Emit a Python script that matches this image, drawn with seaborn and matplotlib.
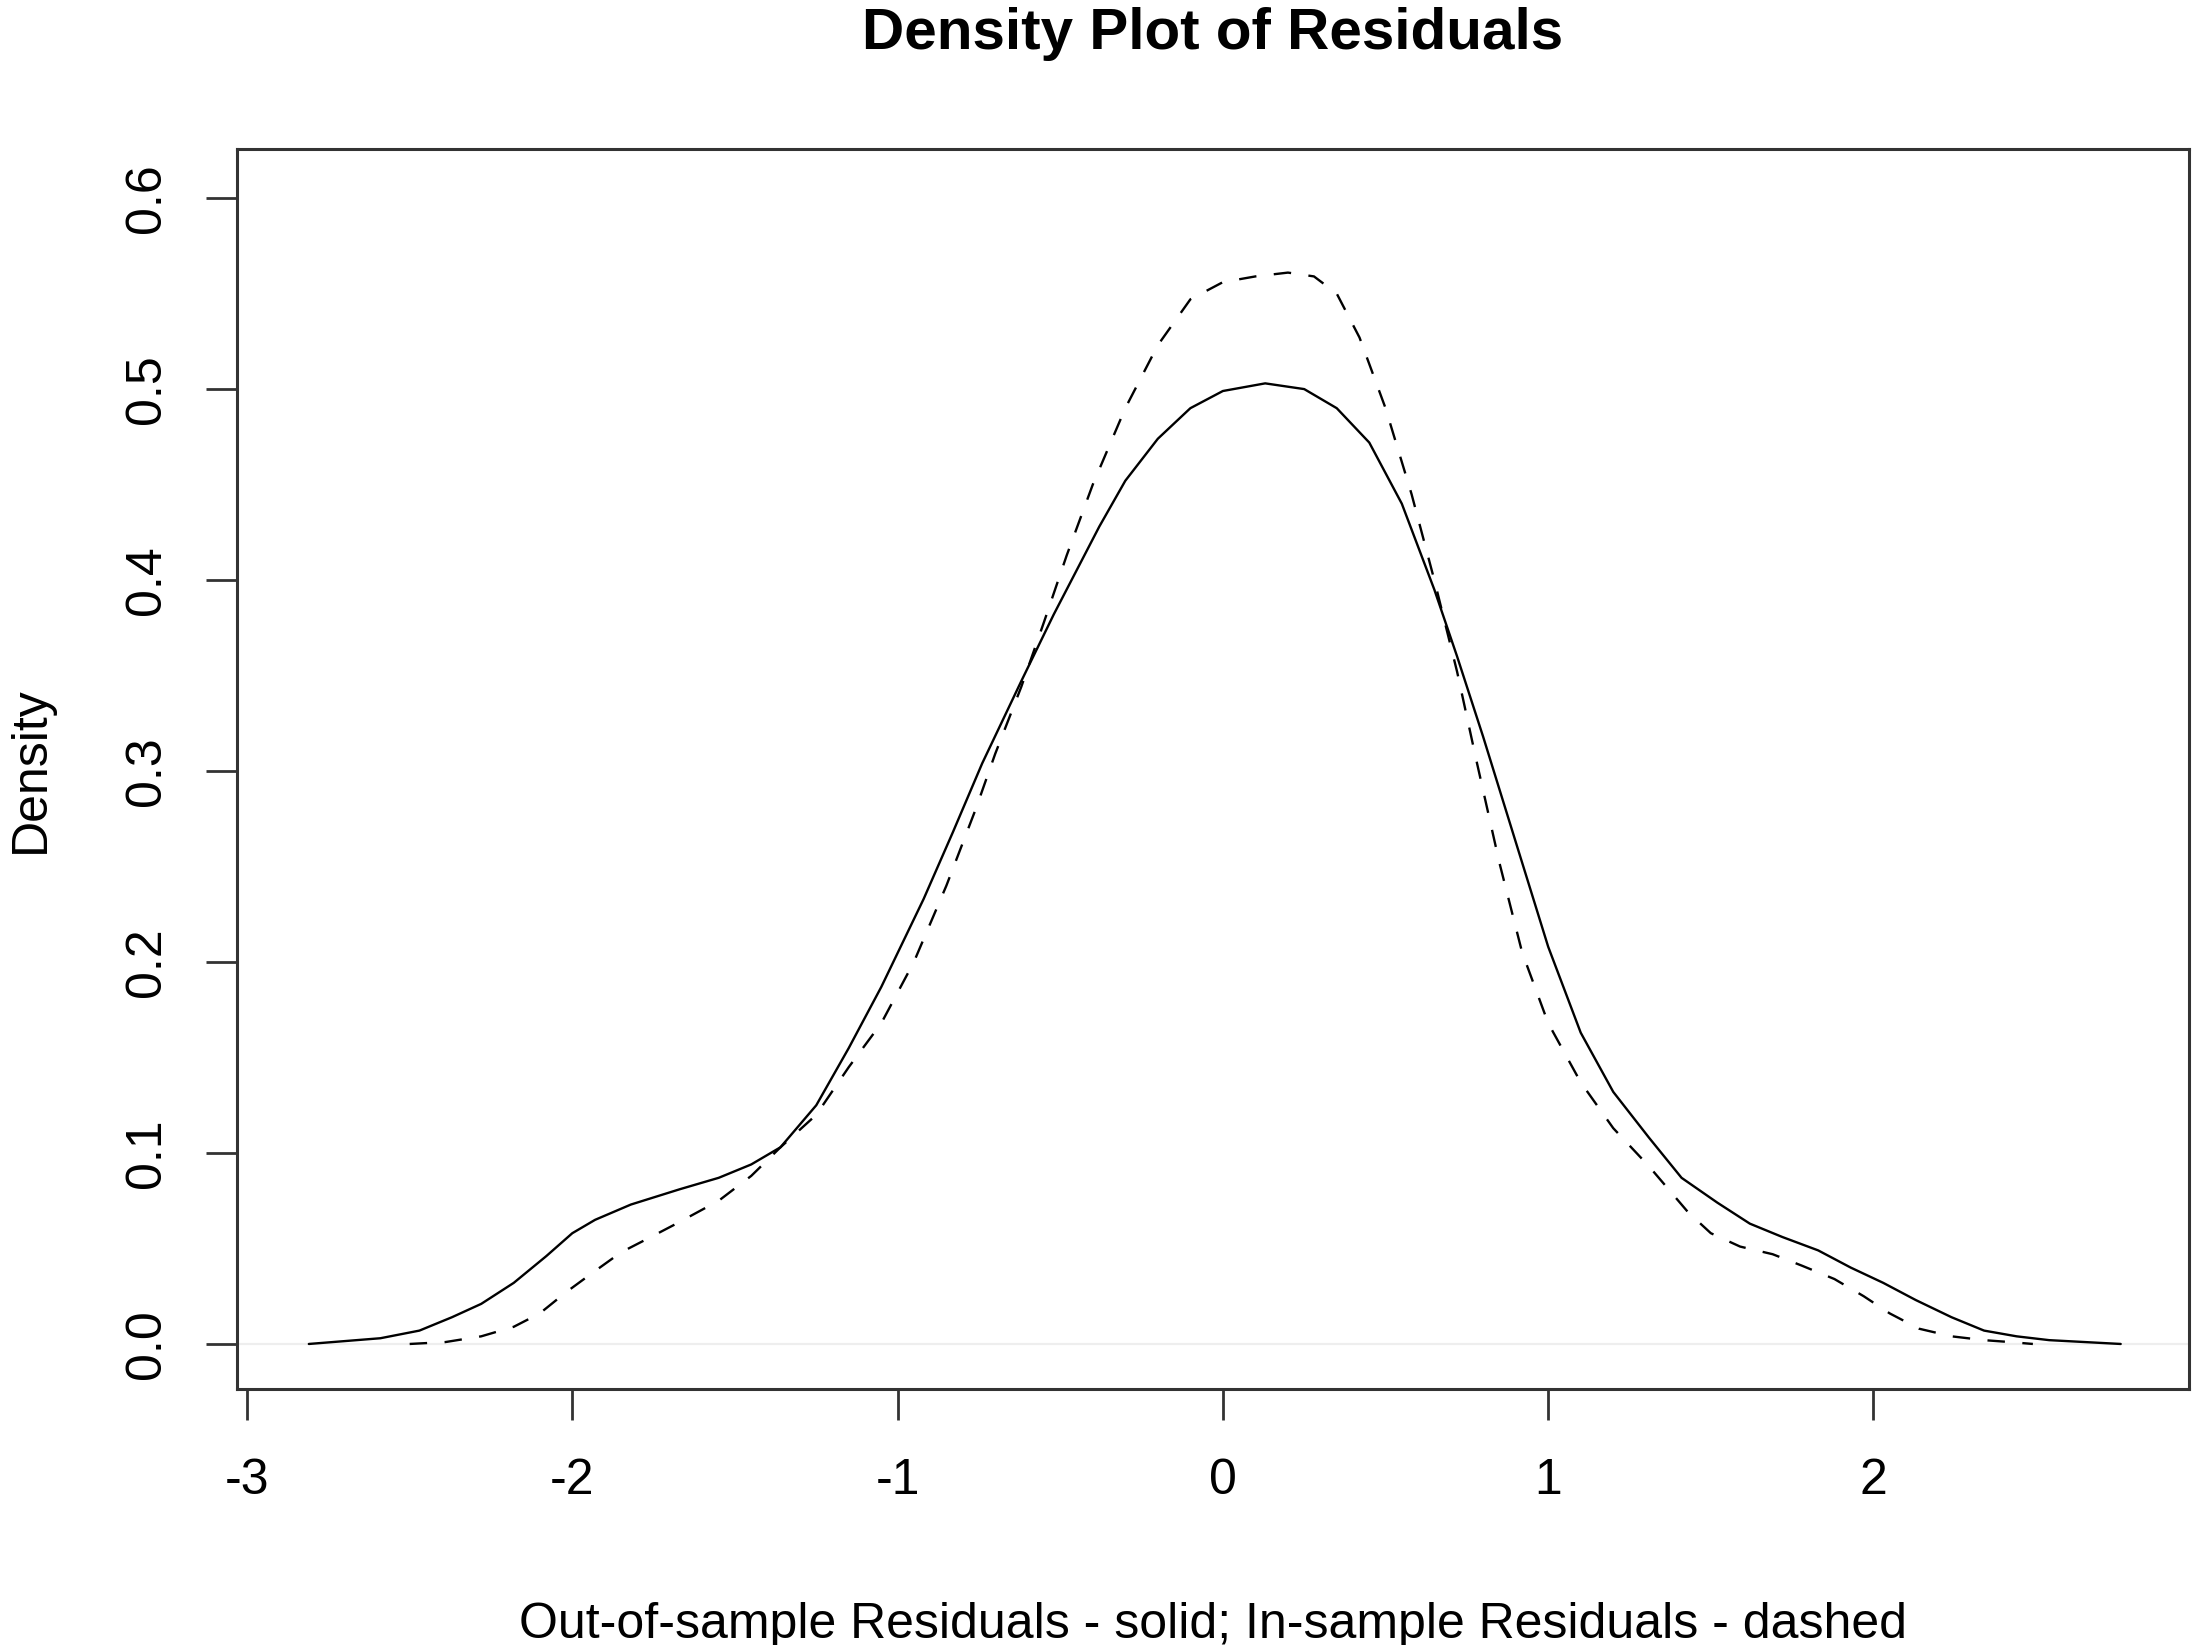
import numpy as np
import matplotlib
matplotlib.use("Agg")
import matplotlib.pyplot as plt
import seaborn as sns

# curves (out-of-sample = solid, in-sample = dashed)
x_out = [-2.81, -2.59, -2.47, -2.37, -2.28, -2.18, -2.08, -2.0, -1.93, -1.82,
         -1.67, -1.55, -1.45, -1.36, -1.25, -1.15, -1.05, -0.92, -0.83, -0.74,
         -0.62, -0.52, -0.45, -0.38, -0.3, -0.2, -0.1, 0.0, 0.13, 0.25,
         0.35, 0.45, 0.55, 0.65, 0.72, 0.8, 0.9, 1.0, 1.1, 1.2,
         1.31, 1.41, 1.52, 1.62, 1.72, 1.83, 1.93, 2.03, 2.13, 2.24,
         2.34, 2.44, 2.54, 2.76]
y_out = [0.0, 0.003, 0.007, 0.014, 0.021, 0.032, 0.046, 0.058, 0.065, 0.073,
         0.081, 0.087, 0.094, 0.103, 0.125, 0.155, 0.187, 0.233, 0.268, 0.304,
         0.347, 0.382, 0.405, 0.428, 0.452, 0.474, 0.49, 0.499, 0.503, 0.5,
         0.49, 0.472, 0.44, 0.395, 0.36, 0.318, 0.263, 0.208, 0.163, 0.132,
         0.108, 0.087, 0.074, 0.063, 0.056, 0.049, 0.04, 0.032, 0.023, 0.014,
         0.007, 0.004, 0.002, 0.0]

x_in = [-2.5, -2.39, -2.28, -2.18, -2.1, -2.02, -1.94, -1.85, -1.77, -1.68,
        -1.55, -1.45, -1.36, -1.25, -1.15, -1.05, -0.95, -0.85, -0.76, -0.7,
        -0.62, -0.55, -0.48, -0.4, -0.3, -0.2, -0.1, 0.0, 0.1, 0.2,
        0.28, 0.35, 0.42, 0.5, 0.58, 0.65, 0.72, 0.78, 0.85, 0.92,
        1.0, 1.1, 1.2, 1.31, 1.37, 1.43, 1.5, 1.59, 1.69, 1.78,
        1.88, 1.97, 2.05, 2.14, 2.24, 2.34, 2.42, 2.49]
y_in = [0.0, 0.001, 0.004, 0.009, 0.016, 0.027, 0.037, 0.048, 0.055, 0.063,
        0.075, 0.088, 0.103, 0.12, 0.145, 0.168, 0.2, 0.24, 0.28, 0.309,
        0.344, 0.378, 0.413, 0.45, 0.49, 0.523, 0.547, 0.556, 0.559, 0.561,
        0.559, 0.55, 0.527, 0.49, 0.445, 0.40, 0.352, 0.305, 0.252, 0.205,
        0.168, 0.137, 0.113, 0.093, 0.081, 0.069, 0.058, 0.051, 0.047, 0.041,
        0.034, 0.025, 0.016, 0.008, 0.004, 0.002, 0.001, 0.0]

x_ticks = [-3, -2, -1, 0, 1, 2]
y_ticks = [0.0, 0.1, 0.2, 0.3, 0.4, 0.5, 0.6]

sns.set_style("white")
plt.rcParams['font.family'] = ['Liberation Sans', 'DejaVu Sans']
plt.rcParams['text.color'] = 'black'
plt.rcParams['axes.labelcolor'] = 'black'
plt.rcParams['xtick.color'] = 'black'
plt.rcParams['ytick.color'] = 'black'

fig = plt.figure(figsize=(11.02, 8.225), dpi=200)
ax = fig.add_axes([0.1075, 0.1556, 0.8857, 0.7538])

ax.axhline(0, color='#eeeeee', lw=0.8, zorder=1)
sns.lineplot(x=x_out, y=y_out, ax=ax, color='black', lw=0.85,
             sort=False, estimator=None, zorder=3)
sns.lineplot(x=x_in, y=y_in, ax=ax, color='black', lw=0.85,
             sort=False, estimator=None, linestyle=(0, (7.4, 7.4)), zorder=3)

ax.set_xlim(-3.031, 2.970)
ax.set_ylim(-0.0236, 0.6257)
ax.set_xticks(x_ticks)
ax.set_xticklabels([str(t) for t in x_ticks])
ax.set_yticks(y_ticks)
ax.set_yticklabels([f"{t:.1f}" for t in y_ticks], rotation=90, va='center')
ax.tick_params(axis='both', direction='out', length=11, width=1.0,
               color='#333333', labelsize=18, labelcolor='black',
               bottom=True, left=True)
ax.tick_params(axis='x', pad=14)
ax.tick_params(axis='y', pad=13)

for sp in ax.spines.values():
    sp.set_visible(True)
    sp.set_color('#333333')
    sp.set_linewidth(1.1)

ax.set_xlabel("Out-of-sample Residuals - solid; In-sample Residuals - dashed",
              fontsize=18, color='black')
ax.xaxis.set_label_coords(0.5, -0.172)
fig.text(31 / 2204, 1 - 770 / 1645, "Density", rotation=90, ha='center',
         va='center', fontsize=18, color='black')
ax.text(0.5, 1.093, "Density Plot of Residuals", transform=ax.transAxes,
        ha='center', va='center', fontsize=21, fontweight='bold', color='black')

fig.savefig("out.png", dpi=200)
